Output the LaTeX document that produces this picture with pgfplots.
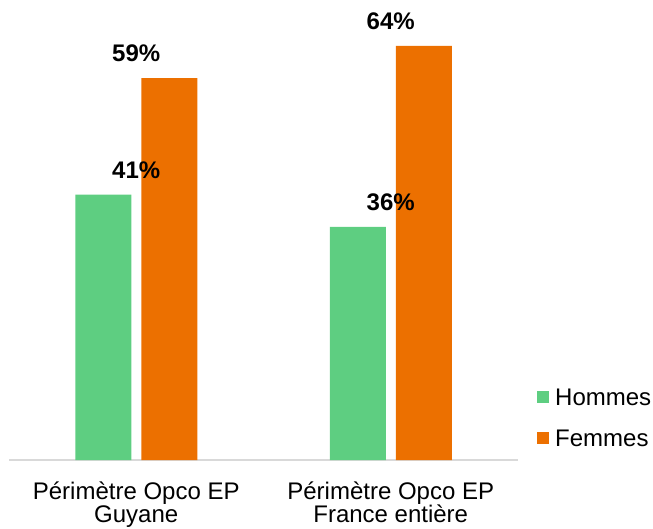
\documentclass[border=0pt]{standalone}
\usepackage{pgfplots}
\pgfplotsset{compat=1.18}
\usepackage{fontspec}
\setmainfont{Liberation Sans}
\definecolor{hgreen}{RGB}{94,206,129}
\definecolor{forange}{RGB}{236,112,0}
\definecolor{axgrey}{RGB}{217,217,217}
\begin{document}
\begin{tikzpicture}
\path[use as bounding box] (-9pt,-68pt) rectangle (644pt,460pt);
\begin{axis}[
    at={(0pt,0pt)}, anchor=south west,
    scale only axis,
    width=509pt, height=455pt,
    xmin=-0.5, xmax=1.5,
    ymin=0, ymax=70.3,
    axis x line*=bottom,
    axis y line=none,
    x axis line style={axgrey, line width=1.5pt, -},
    xtick={0,1},
    xticklabels={Périmètre Opco EP\\Guyane, Périmètre Opco EP\\France entière},
    major tick length=0pt,
    xticklabel style={align=center, inner sep=0pt, anchor=north, yshift=-22pt,
        font=\fontsize{24}{23}\selectfont},
    point meta=explicit symbolic,
    nodes near coords,
    every node near coord/.style={anchor=south, inner sep=0pt, yshift=16pt,
        font=\fontsize{24}{24}\selectfont\bfseries, text=black},
    legend style={at={(1.0373,0.157)}, anchor=north west, draw=none, fill=none,
        inner sep=0pt, row sep=22.8pt, nodes={inner sep=0pt},
        font=\fontsize{24}{24}\selectfont},
    legend cell align=left,
]
\addplot[ybar, bar width=56pt, bar shift=-33pt, fill=hgreen, draw=none,
    legend image code/.code={\fill[hgreen] (0pt,-5.5pt) rectangle (12pt,6.5pt);\path (18pt,0pt);}]
    coordinates {(0,41) [41\%] (1,36) [36\%]};
\addlegendentry{Hommes}
\addplot[ybar, bar width=56pt, bar shift=33pt, fill=forange, draw=none,
    legend image code/.code={\fill[forange] (0pt,-5.5pt) rectangle (12pt,6.5pt);\path (18pt,0pt);}]
    coordinates {(0,59) [59\%] (1,64) [64\%]};
\addlegendentry{Femmes}
\end{axis}
\end{tikzpicture}
\end{document}
